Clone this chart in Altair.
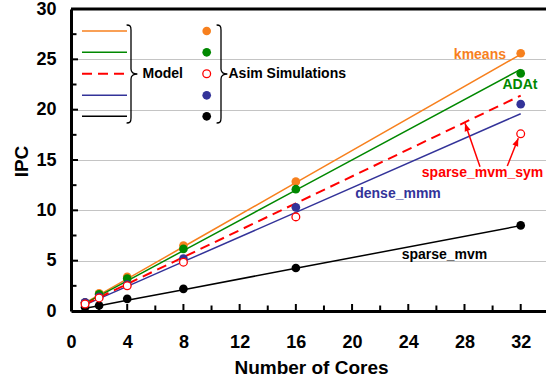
import altair as alt
import pandas as pd

# ---------------- data ----------------
cores = [1, 2, 4, 8, 16, 32]
series = ["kmeans", "ADAt", "sparse_mvm_sym", "dense_mmm", "sparse_mvm"]
colors = ["#F7801E", "#008800", "#FF0000", "#333399", "#000000"]

model_kmeans = [0.80, 1.60, 3.19, 6.38, 12.75, 25.5]
model_adat = [0.75, 1.50, 3.00, 6.00, 12.00, 24.0]
model_sym = [0.67, 1.34, 2.68, 5.35, 10.70, 21.4]
model_dense = [0.61, 1.23, 2.45, 4.90, 9.80, 19.6]
model_spmvm = [0.27, 0.53, 1.06, 2.12, 4.24, 8.48]

sim_kmeans = [0.85, 1.75, 3.39, 6.50, 12.85, 25.6]
sim_adat = [0.82, 1.65, 3.22, 6.17, 12.10, 23.6]
sim_sym = [0.70, 1.30, 2.50, 4.85, 9.35, 17.6]
sim_dense = [0.87, 1.40, 2.63, 5.20, 10.30, 20.55]
sim_spmvm = [0.38, 0.55, 1.21, 2.20, 4.27, 8.50]

x_ticks = [0, 4, 8, 12, 16, 20, 24, 28, 32]
y_ticks = [0, 5, 10, 15, 20, 25, 30]
x_minor = [2, 6, 10, 14, 18, 22, 26, 30]
y_minor = [2.5, 7.5, 12.5, 17.5, 22.5, 27.5]
x_major_marks = [4, 8, 12, 16, 20, 24, 28, 32]
y_major_marks = [5, 10, 15, 20, 25]

legend_labels = ["Model", "Asim Simulations"]
annot_labels = ["kmeans", "ADAt", "sparse_mvm_sym", "dense_mmm", "sparse_mvm"]

# ---------------- layout ----------------
W, H = 475, 302
LEFT, TOP = 71, 9
XMAX, YMAX = 33.8, 30.0


def dx(px):
    return (px - LEFT) * XMAX / W


def dy(py):
    return (TOP + H - py) * YMAX / H


xs = alt.Scale(domain=[0, XMAX], nice=False, zero=False)
ys = alt.Scale(domain=[0, YMAX], nice=False, zero=False)
cscale = alt.Scale(domain=series, range=colors)

models = [model_kmeans, model_adat, model_sym, model_dense, model_spmvm]
sims = [sim_kmeans, sim_adat, sim_sym, sim_dense, sim_spmvm]

mrows, srows = [], []
for s, mv, sv in zip(series, models, sims):
    for c, m, v in zip(cores, mv, sv):
        mrows.append({"series": s, "cores": c, "ipc": m})
        srows.append({"series": s, "cores": c, "ipc": v})
mdf = pd.DataFrame(mrows)
sdf = pd.DataFrame(srows)

x_axis = alt.Axis(values=x_ticks, grid=False, ticks=False, tickSize=0,
                  domainWidth=3, domainColor="black", labelFontSize=18,
                  labelFontWeight="bold", labelColor="black", labelPadding=22,
                  labelFlush=False, labelOverlap=False,
                  title="Number of Cores", titleFontSize=19, titleFontWeight="bold",
                  titleColor="black", titleBaseline="alphabetic", titleY=62.6,
                  titleX=240, titleAlign="center")
y_axis = alt.Axis(values=y_ticks, grid=True, gridColor="#C4C4C4", gridWidth=1,
                  ticks=False, tickSize=0, domainWidth=3, domainColor="black",
                  labelFontSize=18, labelFontWeight="bold", labelColor="black",
                  labelPadding=15, labelFlush=False, labelOverlap=False,
                  title="IPC", titleFontSize=19, titleFontWeight="bold",
                  titleColor="black", titleAngle=270, titleX=-43.7, titleY=152,
                  titleBaseline="alphabetic", titleAlign="center")

# axes base (grid + labels)
base = alt.Chart(pd.DataFrame({"x": [0.0], "y": [0.0]})).mark_point(opacity=0).encode(
    x=alt.X("x:Q", scale=xs, axis=x_axis),
    y=alt.Y("y:Q", scale=ys, axis=y_axis),
)

# inward tick marks
xt = pd.DataFrame({"v": x_major_marks})
xtm = pd.DataFrame({"v": x_minor})
yt = pd.DataFrame({"v": y_major_marks})
ytm = pd.DataFrame({"v": y_minor})
xtick_major = alt.Chart(xt).mark_rule(color="black", strokeWidth=2).encode(
    x=alt.X("v:Q", scale=xs), y=alt.value(H), y2=alt.value(H - 7))
xtick_minor = alt.Chart(xtm).mark_rule(color="black", strokeWidth=2).encode(
    x=alt.X("v:Q", scale=xs), y=alt.value(H), y2=alt.value(H - 5.5))
ytick_major = alt.Chart(yt).mark_rule(color="black", strokeWidth=2).encode(
    y=alt.Y("v:Q", scale=ys), x=alt.value(0), x2=alt.value(7))
ytick_minor = alt.Chart(ytm).mark_rule(color="black", strokeWidth=2).encode(
    y=alt.Y("v:Q", scale=ys), x=alt.value(0), x2=alt.value(5.5))

border = alt.Chart(pd.DataFrame({"a": [0]})).mark_rule(color="black", strokeWidth=3).encode(
    x=alt.value(0), x2=alt.value(W), y=alt.value(0))

# model lines
solid = alt.Chart(mdf[mdf["series"] != "sparse_mvm_sym"]).mark_line(strokeWidth=1.5).encode(
    x=alt.X("cores:Q", scale=xs), y=alt.Y("ipc:Q", scale=ys),
    color=alt.Color("series:N", scale=cscale, legend=None))
dashed = alt.Chart(mdf[mdf["series"] == "sparse_mvm_sym"]).mark_line(
    strokeWidth=2, strokeDash=[10, 6]).encode(
    x=alt.X("cores:Q", scale=xs), y=alt.Y("ipc:Q", scale=ys),
    color=alt.Color("series:N", scale=cscale, legend=None))

# simulation points
pts = alt.Chart(sdf[sdf["series"] != "sparse_mvm_sym"]).mark_point(
    filled=True, size=75, opacity=1).encode(
    x=alt.X("cores:Q", scale=xs), y=alt.Y("ipc:Q", scale=ys),
    color=alt.Color("series:N", scale=cscale, legend=None))
open_pts = alt.Chart(sdf[sdf["series"] == "sparse_mvm_sym"]).mark_point(
    filled=False, size=60, opacity=1, strokeWidth=1.3, fill="white").encode(
    x=alt.X("cores:Q", scale=xs), y=alt.Y("ipc:Q", scale=ys),
    color=alt.Color("series:N", scale=cscale, legend=None))

# legend (drawn inside plot)
leg_rows_px = [31, 52.3, 73.7, 95.3, 116.3]
leg = pd.DataFrame({
    "series": series,
    "x1": [dx(82)] * 5, "x2": [dx(127)] * 5,
    "xd": [dx(206.7)] * 5,
    "y": [dy(p) for p in leg_rows_px],
})
leg_solid = alt.Chart(leg[leg["series"] != "sparse_mvm_sym"]).mark_rule(strokeWidth=1.5).encode(
    x=alt.X("x1:Q", scale=xs), x2="x2:Q", y=alt.Y("y:Q", scale=ys),
    color=alt.Color("series:N", scale=cscale, legend=None))
leg_dash = alt.Chart(leg[leg["series"] == "sparse_mvm_sym"]).mark_rule(
    strokeWidth=2, strokeDash=[10, 6]).encode(
    x=alt.X("x1:Q", scale=xs), x2="x2:Q", y=alt.Y("y:Q", scale=ys),
    color=alt.Color("series:N", scale=cscale, legend=None))
leg_dots = alt.Chart(leg[leg["series"] != "sparse_mvm_sym"]).mark_point(
    filled=True, size=75, opacity=1).encode(
    x=alt.X("xd:Q", scale=xs), y=alt.Y("y:Q", scale=ys),
    color=alt.Color("series:N", scale=cscale, legend=None))
leg_open = alt.Chart(leg[leg["series"] == "sparse_mvm_sym"]).mark_point(
    filled=False, size=60, opacity=1, strokeWidth=1.3).encode(
    x=alt.X("xd:Q", scale=xs), y=alt.Y("y:Q", scale=ys),
    color=alt.Color("series:N", scale=cscale, legend=None))

BRACE = ("M-0.09,-1 C-0.02,-1 0,-0.98 0,-0.9 L0,-0.1 C0,-0.03 0.05,0 0.13,0 "
         "C0.05,0 0,0.03 0,0.1 L0,0.9 C0,0.98 -0.02,1 -0.09,1")
braces = alt.Chart(pd.DataFrame({"x": [dx(131), dx(221)], "y": [dy(74), dy(74)]})).mark_point(
    shape=BRACE, size=9604, filled=False, stroke="black", strokeWidth=1.3, opacity=1).encode(
    x=alt.X("x:Q", scale=xs), y=alt.Y("y:Q", scale=ys))
leg_text = alt.Chart(pd.DataFrame({"t": legend_labels, "x": [dx(142.5), dx(228.5)],
                                   "y": [dy(74), dy(74)]})).mark_text(
    align="left", baseline="middle", fontSize=14, fontWeight="bold", color="black").encode(
    x=alt.X("x:Q", scale=xs), y=alt.Y("y:Q", scale=ys), text="t:N")

# annotations
ann = pd.DataFrame({
    "t": annot_labels,
    "series": series,
    "x": [dx(506), dx(520), dx(482.5), dx(398), dx(444.5)],
    "y": [dy(55), dy(85), dy(173), dy(194.3), dy(255)],
    "anchor": ["right", "center", "center", "center", "center"],
})
ann_right = alt.Chart(ann[ann["anchor"] == "right"]).mark_text(
    align="right", baseline="middle", fontSize=14, fontWeight="bold").encode(
    x=alt.X("x:Q", scale=xs), y=alt.Y("y:Q", scale=ys), text="t:N",
    color=alt.Color("series:N", scale=cscale, legend=None))
ann_center = alt.Chart(ann[ann["anchor"] == "center"]).mark_text(
    align="center", baseline="middle", fontSize=14, fontWeight="bold").encode(
    x=alt.X("x:Q", scale=xs), y=alt.Y("y:Q", scale=ys), text="t:N",
    color=alt.Color("series:N", scale=cscale, legend=None))

arrows = pd.DataFrame({
    "x": [dx(480), dx(507.3)], "y": [dy(166.7), dy(166)],
    "x2": [dx(465), dx(518.3)], "y2": [dy(123.3), dy(138.3)],
    "angle": [341, 22],
})
arrow_lines = alt.Chart(arrows).mark_rule(color="#FF0000", strokeWidth=1.5).encode(
    x=alt.X("x:Q", scale=xs), y=alt.Y("y:Q", scale=ys), x2="x2:Q", y2="y2:Q")
HEAD = "M0,0 L-0.38,1 L0.38,1 Z"
arrow_heads = alt.Chart(arrows).mark_point(
    shape=HEAD, size=256, filled=True, color="#FF0000", opacity=1).encode(
    x=alt.X("x2:Q", scale=xs), y=alt.Y("y2:Q", scale=ys),
    angle=alt.Angle("angle:Q", scale=None))

chart = alt.layer(
    base, xtick_major, xtick_minor, ytick_major, ytick_minor,
    solid, dashed, pts, open_pts,
    leg_solid, leg_dash, leg_dots, leg_open, braces, leg_text,
    ann_right, ann_center, arrow_lines, arrow_heads, border,
).properties(
    width=W, height=H,
    padding={"left": LEFT, "top": TOP, "right": 0, "bottom": 383 - TOP - H},
    autosize=alt.AutoSizeParams(type="none"),
    background="white",
).configure_view(stroke=None).configure(font="Liberation Sans")

chart.save("out.html", embed_options={"renderer": "svg", "actions": False})
